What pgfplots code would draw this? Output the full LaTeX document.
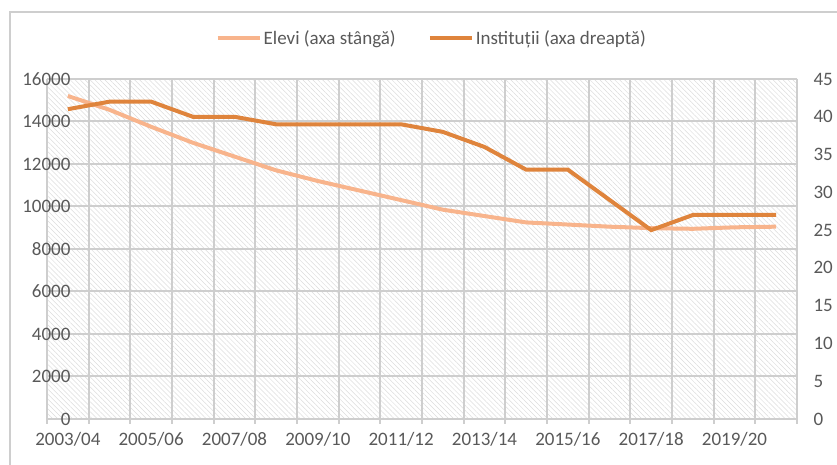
\documentclass[border=0pt]{standalone}
\usepackage{fontspec}
\setmainfont{Carlito}
\usepackage{pgfplots}
\usepackage{pgfplotstable}
\pgfplotsset{compat=1.18}
\usetikzlibrary{patterns.meta}

\definecolor{elevi}{RGB}{248,180,140}
\definecolor{inst}{RGB}{223,132,60}
\definecolor{gridc}{RGB}{206,206,206}
\definecolor{hatch}{RGB}{220,220,220}
\definecolor{txt}{RGB}{89,89,89}

% k = index of school year, 0 = 2003/04 ... 17 = 2020/21
\pgfplotstableread{
k  elevi  inst
0  15200  41
1  14550  42
2  13750  42
3  13000  40
4  12350  40
5  11700  39
6  11200  39
7  10750  39
8  10300  39
9  9850   38
10 9550   36
11 9250   33
12 9150   33
13 9050   29
14 8980   25
15 8950   27
16 9020   27
17 9050   27
}\datatab

\newcommand{\lbl}{\fontsize{19bp}{22bp}\selectfont}

\begin{document}
\begin{tikzpicture}[x=1bp,y=1bp]
\useasboundingbox (0,0) rectangle (837,465);
\draw[gridc, line width=1.5bp] (10,-5) -- (10,453) -- (845,453);

% left axis: Elevi
\begin{axis}[
  at={(47bp,46bp)}, anchor=south west,
  scale only axis, width=750bp, height=340bp,
  xmin=-0.5, xmax=17.5, ymin=0, ymax=16000,
  xtick={0,2,...,16},
  xticklabels={2003/04,2005/06,2007/08,2009/10,2011/12,2013/14,2015/16,2017/18,2019/20},
  minor xtick={-0.5,0.5,...,17.5},
  ytick={0,2000,...,16000},
  xminorgrids=true, ymajorgrids=true,
  grid style={gridc, line width=2bp},
  minor grid style={gridc, line width=2bp},
  axis line style={draw=none},
  tick align=outside, xtick pos=left, ytick pos=left,
  major tick length=0pt, minor tick length=5bp,
  minor tick style={gridc, line width=2bp},
  scaled y ticks=false,
  /pgf/number format/assume math mode=true,
  /pgf/number format/1000 sep={},
  tick label style={font=\lbl, text=txt},
  yticklabel style={anchor=east, xshift=27bp},
  xticklabel style={yshift=-10bp},
  axis background/.style={pattern={Lines[angle=-45,distance=3.5bp,line width=0.5bp]}, pattern color=hatch},
]
\addplot[elevi, line width=4bp] table[x=k, y=elevi] {\datatab};
\end{axis}

% right axis: Institutii
\begin{axis}[
  at={(47bp,46bp)}, anchor=south west,
  scale only axis, width=750bp, height=340bp,
  xmin=-0.5, xmax=17.5, ymin=0, ymax=45,
  hide x axis,
  axis y line*=right,
  axis line style={draw=none},
  ytick={0,5,...,45},
  major tick length=0pt,
  /pgf/number format/assume math mode=true,
  tick label style={font=\lbl, text=txt},
  yticklabel style={anchor=west, xshift=13bp},
  legend columns=2,
  legend style={at={(0.513,1.12)}, anchor=center, draw=none, fill=none,
    font=\lbl, text=txt,
    /tikz/every even column/.append style={column sep=30bp}},
  legend image code/.code={\draw[#1] (0bp,0bp) -- (42bp,0bp);},
]
\addlegendimage{elevi, line width=4bp}
\addlegendentry{Elevi (axa stângă)}
\addplot[inst, line width=4bp] table[x=k, y=inst] {\datatab};
\addlegendentry{Instituții (axa dreaptă)}
\end{axis}
\end{tikzpicture}
\end{document}
